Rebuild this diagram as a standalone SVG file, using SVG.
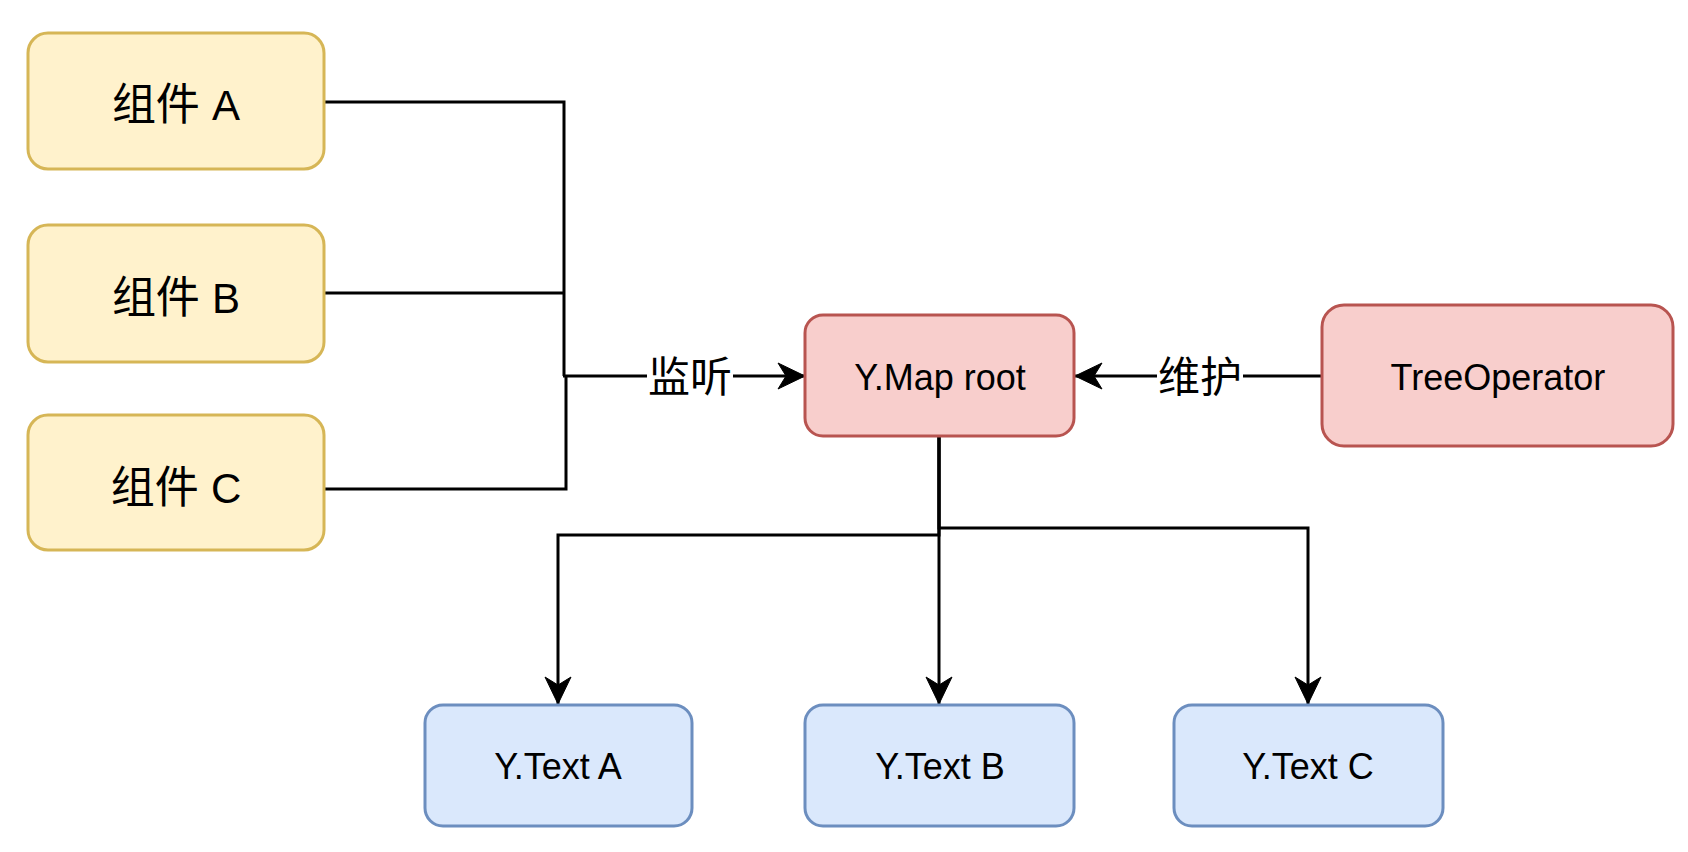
<svg xmlns="http://www.w3.org/2000/svg" width="1688" height="852" viewBox="0 0 1688 852">
  <style>
    .yel { fill: #fff2cc; stroke: #d6b656; stroke-width: 3; }
    .red { fill: #f8cecc; stroke: #b85450; stroke-width: 3; }
    .blu { fill: #dae8fc; stroke: #6c8ebf; stroke-width: 3; }
    .edge { fill: none; stroke: #000; stroke-width: 3; }
    .cjk { font-family: "Liberation Sans", "Noto Sans CJK SC", sans-serif; font-size: 44px; fill: #000; }
    .lat { font-family: "Liberation Sans", "Noto Sans CJK SC", sans-serif; font-size: 42px; }
    .en { font-family: "Liberation Sans", Arial, sans-serif; font-size: 36px; fill: #000; text-anchor: middle; }
    .lbl { font-family: "Noto Sans CJK SC", sans-serif; font-size: 42px; fill: #000; text-anchor: middle; }
  </style>
  <defs>
    <marker id="arr" markerUnits="userSpaceOnUse" markerWidth="30" markerHeight="30" viewBox="-28 -15 30 30" refX="0" refY="0" orient="auto">
      <path d="M0,0 L-27,-13 L-19,0 L-27,13 Z" fill="#000" stroke="#000" stroke-width="1"/>
    </marker>
  </defs>
  <rect width="1688" height="852" fill="#ffffff"/>

  <g id="connectors">
    <polyline class="edge" points="324,102 564,102 564,376"/>
    <polyline class="edge" points="324,293 564,293"/>
    <polyline class="edge" points="324,489 566,489 566,376"/>
    <polyline class="edge" points="563,376 805,376" marker-end="url(#arr)"/>
    <rect x="647" y="354" width="86" height="44" fill="#ffffff"/>
    <text class="lbl" x="690" y="392">监听</text>

    <polyline class="edge" points="1322,376 1075,376" marker-end="url(#arr)"/>
    <rect x="1157" y="354" width="86" height="44" fill="#ffffff"/>
    <text class="lbl" x="1200" y="392">维护</text>

    <polyline class="edge" points="939,436 939,535 558,535 558,704" marker-end="url(#arr)"/>
    <polyline class="edge" points="939,436 939,704" marker-end="url(#arr)"/>
    <polyline class="edge" points="939,436 939,528 1308,528 1308,704" marker-end="url(#arr)"/>
  </g>

  <g id="compA">
    <rect class="yel" x="28" y="33" width="296" height="136" rx="20"/>
    <text class="cjk" x="176" y="120" text-anchor="middle">组件 <tspan class="lat">A</tspan></text>
  </g>
  <g id="compB">
    <rect class="yel" x="28" y="225" width="296" height="137" rx="20"/>
    <text class="cjk" x="176" y="313" text-anchor="middle">组件 <tspan class="lat">B</tspan></text>
  </g>
  <g id="compC">
    <rect class="yel" x="28" y="415" width="296" height="135" rx="20"/>
    <text class="cjk" x="176" y="503" text-anchor="middle">组件 <tspan class="lat">C</tspan></text>
  </g>

  <g id="ymap">
    <rect class="red" x="805" y="315" width="269" height="121" rx="18"/>
    <text class="en" x="940" y="390">Y.Map root</text>
  </g>
  <g id="treeop">
    <rect class="red" x="1322" y="305" width="351" height="141" rx="22"/>
    <text class="en" x="1498" y="390">TreeOperator</text>
  </g>

  <g id="ytextA">
    <rect class="blu" x="425" y="705" width="267" height="121" rx="18"/>
    <text class="en" x="558" y="779">Y.Text A</text>
  </g>
  <g id="ytextB">
    <rect class="blu" x="805" y="705" width="269" height="121" rx="18"/>
    <text class="en" x="940" y="779">Y.Text B</text>
  </g>
  <g id="ytextC">
    <rect class="blu" x="1174" y="705" width="269" height="121" rx="18"/>
    <text class="en" x="1308" y="779">Y.Text C</text>
  </g>
</svg>
